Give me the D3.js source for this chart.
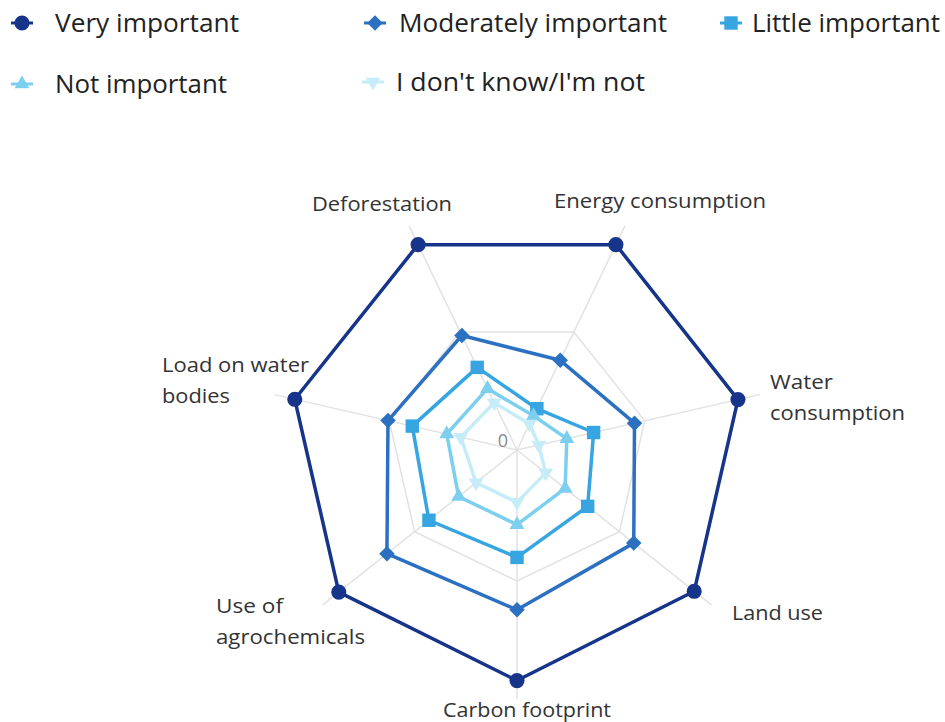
<!DOCTYPE html>
<html>
<head>
<meta charset="utf-8">
<script src="https://cdn.jsdelivr.net/npm/d3@7"></script>
<style>
  html, body { margin: 0; padding: 0; background: #fff; }
  svg { display: block; font-family: "Open Sans", "Noto Sans", sans-serif; }
</style>
</head>
<body>
<svg id="chart" width="945" height="722"></svg>
<script>
// categories, clockwise starting just left of 12 o'clock
const categories = [
	"Deforestation",
	"Energy consumption",
	"Water consumption",
	"Land use",
	"Carbon footprint",
	"Use of agrochemicals",
	"Load on water bodies",
];

const seriesNames = [
	"Very important",
	"Moderately important",
	"Little important",
	"Not important",
	"I don't know/I'm not",
];

// values, same order as categories
const veryImportant = [87, 87, 86.5, 86.5, 88, 87, 87];
const moderatelyImportant = [48.5, 38, 46, 57, 61, 63.5, 50.5];
const littleImportant = [35, 17.5, 30, 34.5, 41, 43, 41];
const notImportant = [26, 14.5, 19.5, 23.5, 28.5, 28.5, 27.5];
const dontKnow = [20, 11, 8.5, 14, 20, 20, 22];

const gridTicks = [50];
const axisMax = 95;

const seriesValues = [veryImportant, moderatelyImportant, littleImportant, notImportant, dontKnow];
const colors = ["#163489", "#2b70c1", "#36a5e1", "#7ccfee", "#c6ecf8"];
const symbols = ["circle", "diamond", "square", "triangle", "triangle-down"];

const svg = d3.select("#chart");
const cx = 517, cy = 450;

const r = d3.scaleLinear().domain([0, 100]).range([0, 262]);
const step = (2 * Math.PI) / categories.length;
const angle = (i) => i * step - step / 2;

const point = (i, v) => [cx + r(v) * Math.sin(angle(i)), cy - r(v) * Math.cos(angle(i))];

function symbolPath(type) {
	if (type === "circle") return d3.symbol(d3.symbolCircle, 180)();
	if (type === "diamond") return d3.symbol(d3.symbolSquare, 120)();
	if (type === "square") return d3.symbol(d3.symbolSquare, 180)();
	return d3.symbol(d3.symbolTriangle, 95)();
}
function symbolRotate(type) {
	if (type === "diamond") return 45;
	if (type === "triangle-down") return 180;
	return 0;
}

// grid
const grid = svg.append("g");
grid.selectAll("line.axis")
	.data(categories)
	.enter()
	.append("line")
	.attr("x1", cx)
	.attr("y1", cy)
	.attr("x2", (d, i) => point(i, axisMax)[0])
	.attr("y2", (d, i) => point(i, axisMax)[1])
	.style("stroke", "#e2e2e2")
	.style("stroke-width", "1.5px");

grid.selectAll("path.ring")
	.data(gridTicks)
	.enter()
	.append("path")
	.attr("d", (t) => d3.lineRadial().curve(d3.curveLinearClosed)
		.angle((d, i) => angle(i)).radius(() => r(t))(categories))
	.attr("transform", `translate(${cx},${cy})`)
	.style("fill", "none")
	.style("stroke", "#e2e2e2")
	.style("stroke-width", "1.5px");

svg.append("text")
	.attr("x", cx - 14)
	.attr("y", cy - 3)
	.attr("text-anchor", "middle")
	.text("0")
	.style("font-size", "18px")
	.style("fill", "#8a8a8a");

// series
const line = d3.lineRadial()
	.curve(d3.curveLinearClosed)
	.angle((d, i) => angle(i))
	.radius((d) => r(d));

seriesValues.forEach((vals, s) => {
	const g = svg.append("g");
	g.append("path")
		.attr("d", line(vals))
		.attr("transform", `translate(${cx},${cy})`)
		.style("fill", "none")
		.style("stroke", colors[s])
		.style("stroke-width", "3.5px")
		.style("stroke-linejoin", "round");
	g.selectAll("path.mark")
		.data(vals)
		.enter()
		.append("path")
		.attr("d", symbolPath(symbols[s]))
		.attr("transform", (d, i) => {
			const [x, y] = point(i, d);
			return `translate(${x},${y}) rotate(${symbolRotate(symbols[s])})`;
		})
		.style("fill", colors[s]);
});

// category labels
const labelLayout = {
	"Deforestation": { x: 382, y: 211, anchor: "middle", lines: ["Deforestation"], w: [140] },
	"Energy consumption": { x: 660, y: 208, anchor: "middle", lines: ["Energy consumption"], w: [212] },
	"Water consumption": { x: 770, y: 389, anchor: "start", lines: ["Water", "consumption"], w: [63, 135] },
	"Land use": { x: 732, y: 620, anchor: "start", lines: ["Land use"], w: [91] },
	"Carbon footprint": { x: 527, y: 717, anchor: "middle", lines: ["Carbon footprint"], w: [168] },
	"Use of agrochemicals": { x: 216, y: 613, anchor: "start", lines: ["Use of", "agrochemicals"], w: [67, 149] },
	"Load on water bodies": { x: 162, y: 372, anchor: "start", lines: ["Load on water", "bodies"], w: [147, 68] },
};

categories.forEach((c) => {
	const L = labelLayout[c];
	L.lines.forEach((txt, k) => {
		svg.append("text")
			.attr("x", L.x)
			.attr("y", L.y + k * 31)
			.attr("text-anchor", L.anchor)
			.attr("textLength", L.w[k])
			.attr("lengthAdjust", "spacingAndGlyphs")
			.text(txt)
			.style("font-size", "20px")
			.style("fill", "#333");
	});
});

// legend
const legendPos = [
	{ x: 22, y: 23, tx: 55, tw: 184 },
	{ x: 375, y: 23, tx: 399, tw: 268 },
	{ x: 731, y: 23, tx: 752, tw: 188 },
	{ x: 22, y: 84, tx: 55, tw: 172 },
	{ x: 373, y: 82, tx: 396, tw: 249 },
];

const legend = svg.append("g");
seriesNames.forEach((name, s) => {
	const p = legendPos[s];
	const g = legend.append("g").attr("transform", `translate(${p.x},${p.y})`);
	g.append("line")
		.attr("x1", -11).attr("x2", 11)
		.style("stroke", colors[s])
		.style("stroke-width", "3px");
	g.append("path")
		.attr("d", symbolPath(symbols[s]))
		.attr("transform", `rotate(${symbolRotate(symbols[s])})`)
		.style("fill", colors[s]);
	g.append("text")
		.attr("x", p.tx - p.x)
		.attr("y", 9)
		.attr("textLength", p.tw)
		.attr("lengthAdjust", "spacingAndGlyphs")
		.text(name)
		.style("font-size", "25px")
		.style("fill", "#222");
});
</script>
</body>
</html>
